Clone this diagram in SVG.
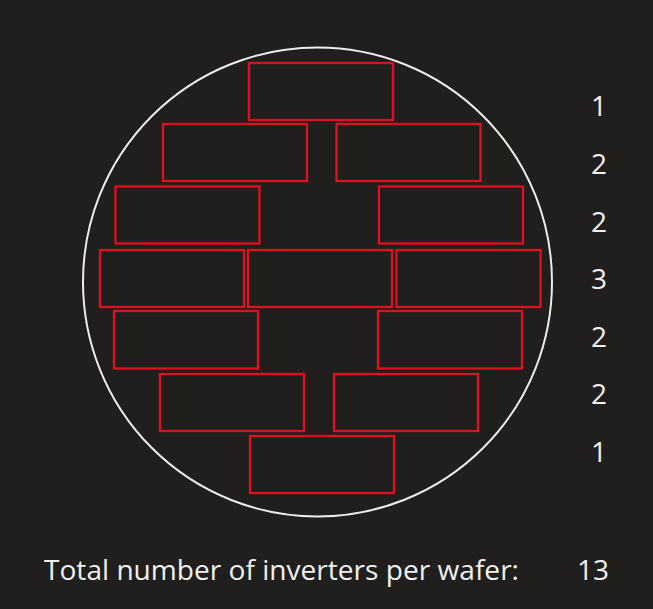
<svg xmlns="http://www.w3.org/2000/svg" width="653" height="609" viewBox="0 0 653 609">
<style>
.inv{fill:none;stroke:#e0101e;stroke-width:2.3}
.wafer{fill:none;stroke:#ececec;stroke-width:2}
.t{font-family:"Open Sans","Noto Sans",sans-serif;font-size:28px;fill:#f0f0f0}
.n{text-anchor:middle}
</style>
<rect width="653" height="609" fill="#201f1e"/>
<g id="wafer"><circle class="wafer" cx="317.5" cy="282" r="234.5"/></g>
<g id="row1"><rect class="inv" x="249" y="63" width="144" height="57"/></g>
<g id="row2"><rect class="inv" x="163" y="124" width="144" height="57"/><rect class="inv" x="336.5" y="124" width="144" height="57"/></g>
<g id="row3"><rect class="inv" x="115.5" y="186.5" width="144" height="57"/><rect class="inv" x="379" y="186.5" width="144" height="57"/></g>
<g id="row4"><rect class="inv" x="100" y="250" width="144" height="57"/><rect class="inv" x="248" y="250" width="144" height="57"/><rect class="inv" x="396.5" y="250" width="144" height="57"/></g>
<g id="row5"><rect class="inv" x="114" y="311" width="144" height="57.5"/><rect class="inv" x="378" y="311" width="144" height="57.5"/></g>
<g id="row6"><rect class="inv" x="160" y="374" width="144" height="57"/><rect class="inv" x="334" y="374" width="144" height="57"/></g>
<g id="row7"><rect class="inv" x="250" y="436" width="144" height="57"/></g>
<g id="counts" class="t n">
<text x="599" y="116">1</text>
<text x="599" y="174">2</text>
<text x="599" y="232">2</text>
<text x="599" y="289">3</text>
<text x="599" y="347">2</text>
<text x="599" y="404">2</text>
<text x="599" y="462">1</text>
</g>
<g id="total" class="t">
<text x="44" y="580" textLength="475" lengthAdjust="spacingAndGlyphs">Total number of inverters per wafer:</text>
<text x="593" y="580" text-anchor="middle">13</text>
</g>
</svg>
